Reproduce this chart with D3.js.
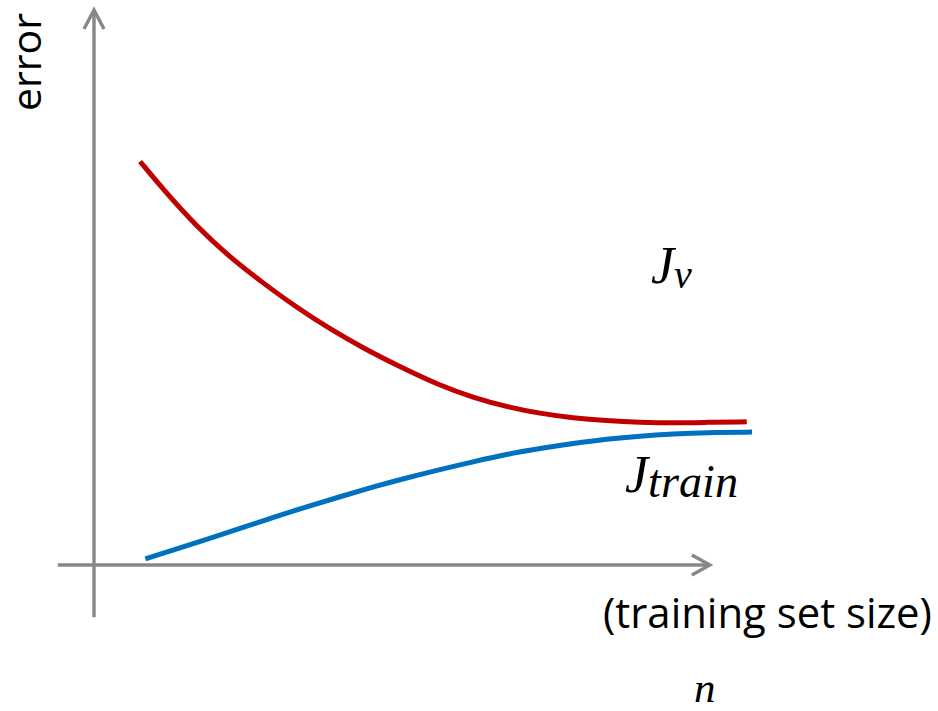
<!DOCTYPE html>
<html>
<head>
<meta charset="utf-8">
<script src="https://cdn.jsdelivr.net/npm/d3@7"></script>
<style>
  html, body { margin: 0; padding: 0; background: #fff; }
  svg { display: block; }
</style>
</head>
<body>
<svg id="chart" width="938" height="711"></svg>
<script>
// Validation error J_v against training set size n
const validationN   = [7.0, 10.5, 15.6, 20.7, 25.7, 30.8, 35.9, 40.9, 46.0, 52.6, 57.6, 62.7, 67.8, 72.8, 77.9, 83.0, 88.0, 93.1, 99.2];
const validationErr = [72.7, 67.7, 61.0, 55.4, 50.8, 46.4, 42.5, 39.1, 36.0, 32.3, 30.2, 28.5, 27.3, 26.5, 26.0, 25.7, 25.6, 25.7, 25.8];

// Training error J_train against training set size n
const trainN   = [7.8, 12.1, 17.1, 22.2, 27.3, 32.3, 37.4, 42.5, 47.5, 52.6, 57.6, 62.7, 67.8, 72.8, 77.9, 83.0, 88.0, 93.1, 100];
const trainErr = [1.1, 2.7, 4.6, 6.6, 8.6, 10.5, 12.3, 14.1, 15.7, 17.2, 18.6, 19.95, 21.0, 21.9, 22.7, 23.25, 23.6, 23.85, 23.95];

// Axis extents (in data units) for the arrowed axes
const xAxisExtent = [-5.5, 93.6];
const yAxisExtent = [-9.4, 100];

const svg = d3.select("#chart");

const x = d3.scaleLinear().domain([0, 100]).range([94, 752]);
const y = d3.scaleLinear().domain([0, 100]).range([565, 10]);

const axisColor = "#878787";

// Axes with open arrowheads
const axes = svg.append("g")
  .attr("stroke", axisColor)
  .attr("stroke-width", 3.4)
  .attr("fill", "none");

axes.append("line")
  .attr("x1", x(0)).attr("x2", x(0))
  .attr("y1", y(yAxisExtent[0])).attr("y2", y(yAxisExtent[1]) + 1);

axes.append("line")
  .attr("x1", x(xAxisExtent[0])).attr("x2", x(xAxisExtent[1]) - 1)
  .attr("y1", y(0)).attr("y2", y(0));

const yTip = [x(0), y(yAxisExtent[1])];
axes.append("path")
  .attr("stroke-linejoin", "miter")
  .attr("d", `M${yTip[0] - 10},${yTip[1] + 19} L${yTip[0]},${yTip[1]} L${yTip[0] + 10},${yTip[1] + 19}`);

const xTip = [x(xAxisExtent[1]), y(0)];
axes.append("path")
  .attr("stroke-linejoin", "miter")
  .attr("d", `M${xTip[0] - 18},${xTip[1] - 10} L${xTip[0]},${xTip[1]} L${xTip[0] - 18},${xTip[1] + 10}`);

// Learning curves, smoothed through the sampled points
const line = d3.line()
  .x(d => x(d[0]))
  .y(d => y(d[1]))
  .curve(d3.curveBasis);

svg.append("path")
  .datum(d3.zip(validationN, validationErr))
  .attr("fill", "none")
  .attr("stroke", "#C00000")
  .attr("stroke-width", 5)
  .attr("d", line);

svg.append("path")
  .datum(d3.zip(trainN, trainErr))
  .attr("fill", "none")
  .attr("stroke", "#0070C0")
  .attr("stroke-width", 5)
  .attr("d", line);

// Scale a text element's font so its rendered width matches the given width
function fitWidth(sel, width) {
  const node = sel.node();
  const fs = parseFloat(sel.attr("font-size"));
  const w = node.getComputedTextLength();
  sel.attr("font-size", fs * width / w);
}

const sans = "'Open Sans', 'DejaVu Sans', sans-serif";
const math = "'Liberation Serif', 'DejaVu Serif', serif";

// Axis titles
const yTitle = svg.append("text")
  .attr("transform", "translate(41,111) rotate(-90)")
  .attr("font-family", sans)
  .attr("font-size", 36)
  .attr("fill", "#000")
  .text("error");
fitWidth(yTitle, 98);

const xTitle = svg.append("text")
  .attr("x", 603).attr("y", 628)
  .attr("font-family", sans)
  .attr("font-size", 36)
  .attr("fill", "#000")
  .text("(training set size)");
fitWidth(xTitle, 329);

svg.append("text")
  .attr("x", 694).attr("y", 702)
  .attr("font-family", math)
  .attr("font-style", "italic")
  .attr("font-size", 43)
  .attr("fill", "#000")
  .text("n");

// Curve labels
const jv = svg.append("text")
  .attr("x", 651).attr("y", 283)
  .attr("font-family", math)
  .attr("font-style", "italic")
  .attr("font-size", 52)
  .attr("fill", "#000");
jv.append("tspan").text("J");
jv.append("tspan").attr("font-size", 40).attr("dy", 5).text("v");

const jt = svg.append("text")
  .attr("x", 625).attr("y", 492)
  .attr("font-family", math)
  .attr("font-style", "italic")
  .attr("font-size", 52)
  .attr("fill", "#000");
jt.append("tspan").text("J");
const sub = jt.append("tspan").attr("font-size", 38).attr("dy", 5).text("train");
{
  const w = sub.node().getComputedTextLength();
  sub.attr("font-size", 38 * 90 / w);
}
</script>
</body>
</html>
